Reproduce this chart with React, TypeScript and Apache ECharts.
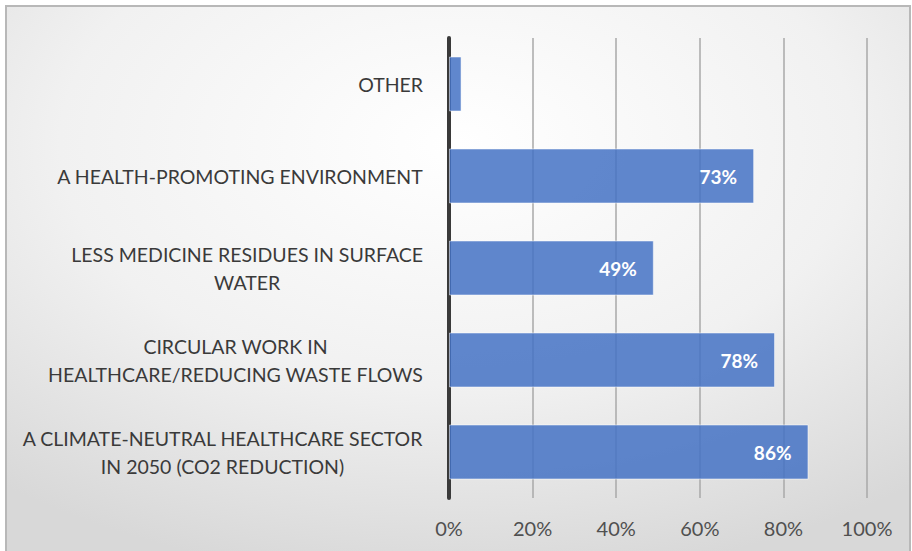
import React, { useEffect, useRef } from "react";
import * as echarts from "echarts";

const categories: string[] = [
  "OTHER",
  "A HEALTH-PROMOTING ENVIRONMENT",
  "LESS MEDICINE RESIDUES IN SURFACE\nWATER",
  "CIRCULAR WORK IN\nHEALTHCARE/REDUCING WASTE FLOWS",
  "A CLIMATE-NEUTRAL HEALTHCARE SECTOR\nIN 2050 (CO2 REDUCTION)",
];
const values: number[] = [3, 73, 49, 78, 86];
const showValueLabel: boolean[] = [false, true, true, true, true];
const xTicks: number[] = [0, 20, 40, 60, 80, 100];

const FONT = "Lato, 'Open Sans', sans-serif";

export default function App() {
  const ref = useRef<HTMLDivElement>(null);
  useEffect(() => {
    if (!ref.current) return;
    const chart = echarts.init(ref.current, undefined, { renderer: "svg" });
    chart.setOption({
      animation: false,
      backgroundColor: "#ffffff",
      graphic: [
        {
          type: "rect",
          z: -10,
          silent: true,
          shape: { x: 6, y: 6, width: 904, height: 550 },
          style: {
            fill: new echarts.graphic.RadialGradient(0.5, 0.25, 0.8, [
              { offset: 0, color: "#ffffff" },
              { offset: 0.55, color: "#f1f1f1" },
              { offset: 1, color: "#d8d8d8" },
            ]),
            stroke: "#b8b8b8",
            lineWidth: 2,
          },
        },
      ],
      grid: { left: 449, right: 45, top: 38, bottom: 53 },
      xAxis: {
        type: "value",
        min: 0,
        max: 100,
        interval: 20,
        axisLine: { show: false },
        axisTick: { show: false },
        splitLine: { show: true, lineStyle: { color: "#a8a8a8", width: 1.5 } },
        axisLabel: {
          margin: 20,
          fontFamily: FONT,
          fontSize: 20,
          color: "#505050",
          formatter: (v: number) => (xTicks.includes(v) ? `${v}%` : ""),
        },
      },
      yAxis: {
        type: "category",
        inverse: true,
        data: categories,
        axisLine: { show: true, lineStyle: { color: "#3a3a3a", width: 4 } },
        axisTick: { show: false },
        axisLabel: {
          margin: 26,
          formatter: (v: string) =>
            v
              .split("\n")
              .map((l) => `{c|${l}}`)
              .join("\n"),
          rich: {
            c: {
              align: "center",
              fontFamily: FONT,
              fontSize: 19.5,
              lineHeight: 28,
              color: "#3a3a3a",
            },
          },
        },
      },
      series: [
        {
          type: "bar",
          barWidth: 55,
          data: values.map((v, i) => ({
            value: v,
            label: { show: showValueLabel[i] },
          })),
          itemStyle: {
            color: "rgba(68,114,196,0.85)",
            borderColor: "rgba(255,255,255,0.5)",
            borderWidth: 1,
          },
          label: {
            show: true,
            position: "insideRight",
            distance: 17,
            formatter: (p: any) => `${p.value}%`,
            fontFamily: FONT,
            fontWeight: "bold",
            fontSize: 19,
            color: "#ffffff",
          },
        },
      ],
    });
    return () => chart.dispose();
  }, []);
  return (
    <div
      ref={ref}
      style={{ position: "absolute", left: 0, top: 0, width: 912, height: 551 }}
    />
  );
}
